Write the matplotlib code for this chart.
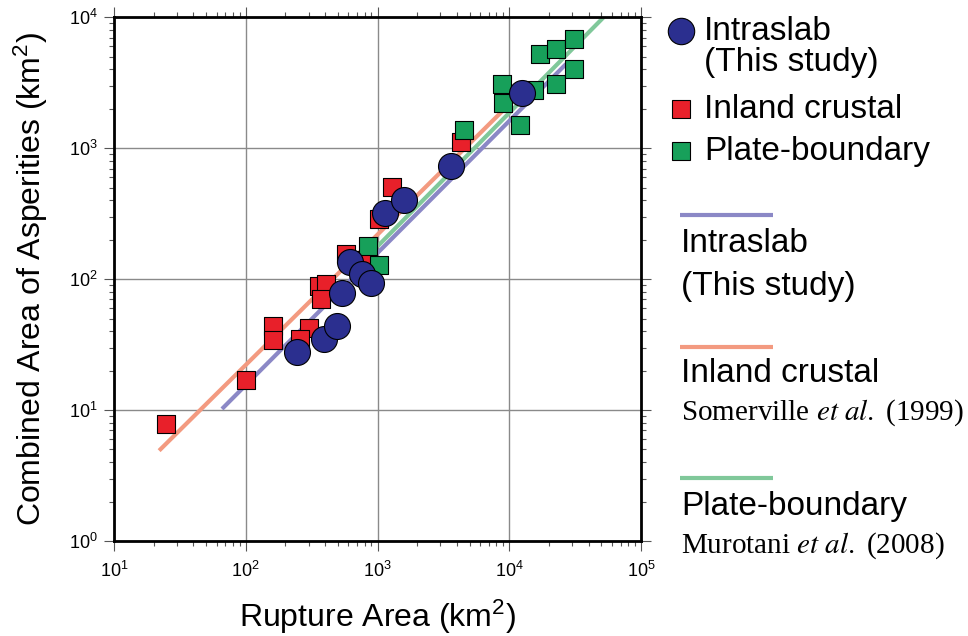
import matplotlib
matplotlib.use("Agg")
import matplotlib.pyplot as plt
from matplotlib.lines import Line2D
from matplotlib.ticker import LogLocator, NullFormatter

plt.rcParams['font.family'] = ['Liberation Sans', 'DejaVu Sans']
plt.rcParams['mathtext.fontset'] = 'custom'
plt.rcParams['mathtext.rm'] = 'Liberation Sans'
plt.rcParams['mathtext.it'] = 'Liberation Sans:italic'

# data (km^2)
intraslab_x = [245, 390, 490, 540, 620, 760, 890, 1150, 1580, 3600, 12500]
intraslab_y = [28, 35, 44, 79, 135, 110, 94, 318, 400, 735, 2650]

crustal_x = [25, 100, 160, 160, 300, 260, 360, 410, 370, 575, 800, 1030, 1290, 4300]
crustal_y = [7.8, 17, 44, 34, 42, 35, 89, 92, 70, 157, 140, 290, 510, 1120]

plate_x = [850, 1030, 4500, 8800, 9000, 12000, 15500, 17000, 22500, 22500, 31000, 31000]
plate_y = [180, 128, 1390, 3100, 2200, 1500, 2800, 5200, 5700, 3100, 6800, 4000]

# scaling relations (end points)
intraslab_line_x = [66, 27000]
intraslab_line_y = [10.2, 4400]
crustal_line_x = [22, 9000]
crustal_line_y = [4.9, 1950]
plate_line_x = [1000, 52000]
plate_line_y = [178, 10000]

c_blue = '#2b2f8f'
c_red = '#e8202a'
c_green = '#17a05a'
c_lpurple = '#8b88c6'
c_lorange = '#f39a80'
c_lgreen = '#80c89a'

fig = plt.figure(figsize=(9.68, 6.36), dpi=100)
ax = fig.add_axes([114/968, 1-541/636, 527/968, 523.7/636])

ax.plot(intraslab_line_x, intraslab_line_y, color=c_lpurple, lw=3, solid_capstyle='butt', zorder=2)
ax.plot(crustal_line_x, crustal_line_y, color=c_lorange, lw=3, solid_capstyle='butt', zorder=2)
ax.plot(plate_line_x, plate_line_y, color=c_lgreen, lw=3, solid_capstyle='butt', zorder=2)

ax.scatter(crustal_x, crustal_y, marker='s', s=175, c=c_red, edgecolors='black', linewidths=0.8, zorder=3)
ax.scatter(plate_x, plate_y, marker='s', s=175, c=c_green, edgecolors='black', linewidths=0.8, zorder=4)
ax.scatter(intraslab_x, intraslab_y, marker='o', s=350, c=c_blue, edgecolors='black', linewidths=0.8, zorder=5)

ax.set_xscale('log')
ax.set_yscale('log')
ax.set_xlim(10, 1e5)
ax.set_ylim(1, 1e4)
ax.xaxis.set_minor_locator(LogLocator(base=10, subs=range(2, 10)))
ax.yaxis.set_minor_locator(LogLocator(base=10, subs=range(2, 10)))
ax.xaxis.set_minor_formatter(NullFormatter())
ax.yaxis.set_minor_formatter(NullFormatter())

ax.grid(True, which='major', color='#8a8a8a', lw=1)
ax.set_axisbelow(True)
for sp in ax.spines.values():
    sp.set_linewidth(2)
ax.tick_params(which='both', direction='out', top=True, right=True, width=0.8,
               labelsize=13, color='#555555', labelcolor='black')
ax.tick_params(which='major', length=7, pad=5)
ax.tick_params(which='minor', length=3.5)
ax.tick_params(axis='x', which='major', pad=7)

ax.set_xlabel(r'Rupture Area (km$^\mathdefault{2}$)', fontsize=23)
ax.set_ylabel(r'Combined Area of Asperities (km$^\mathdefault{2}$)', fontsize=23)
ax.xaxis.set_label_coords(0.5, -0.108)
ax.yaxis.set_label_coords(-0.121, 0.5)

# legend, laid out by hand like the original
def fx(px):
    return px / 968

def fy(py):
    return 1 - py / 636

fig.add_artist(Line2D([fx(681)], [fy(31)], marker='o', markersize=19, color=c_blue,
                      markeredgecolor='black', markeredgewidth=0.8, transform=fig.transFigure))
fig.add_artist(Line2D([fx(681)], [fy(109)], marker='s', markersize=13, color=c_red,
                      markeredgecolor='black', markeredgewidth=0.8, transform=fig.transFigure))
fig.add_artist(Line2D([fx(681)], [fy(151)], marker='s', markersize=13, color=c_green,
                      markeredgecolor='black', markeredgewidth=0.8, transform=fig.transFigure))

fs = 24
fig.text(fx(704), fy(31), 'Intraslab', fontsize=fs, va='center')
fig.text(fx(704), fy(63), '(This study)', fontsize=fs, va='center')
fig.text(fx(704), fy(109), 'Inland crustal', fontsize=fs, va='center')
fig.text(fx(704), fy(152), 'Plate-boundary', fontsize=fs, va='center')

for py, col in [(215, c_lpurple), (347, c_lorange), (478, c_lgreen)]:
    fig.add_artist(Line2D([fx(680), fx(773)], [fy(py), fy(py)], color=col, lw=3,
                          solid_capstyle='butt', transform=fig.transFigure))

fig.text(fx(681), fy(243), 'Intraslab', fontsize=fs, va='center')
fig.text(fx(681), fy(286), '(This study)', fontsize=fs, va='center')
fig.text(fx(681), fy(373), 'Inland crustal', fontsize=fs, va='center')
fig.text(fx(681), fy(413), r'Somerville $\mathit{et\ al.}$ (1999)', fontsize=21, va='center',
         family='Liberation Serif', math_fontfamily='stix')
fig.text(fx(681), fy(506), 'Plate-boundary', fontsize=fs, va='center')
fig.text(fx(681), fy(546), r'Murotani $\mathit{et\ al.}$ (2008)', fontsize=21, va='center',
         family='Liberation Serif', math_fontfamily='stix')

fig.savefig('out.png', dpi=100)
